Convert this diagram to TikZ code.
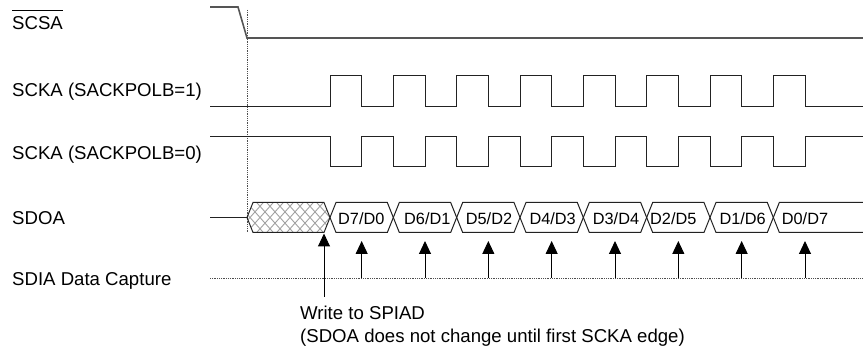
\documentclass[tikz,border=0pt]{standalone}
\usepackage{fontspec}
\setmainfont{Liberation Sans}
\usetikzlibrary{arrows.meta}
\definecolor{wave}{HTML}{222222}
\definecolor{csline}{HTML}{555555}
\definecolor{hatch}{HTML}{A0A0A0}
\tikzset{
  lbl/.style={anchor=base west, inner sep=0pt, font=\fontsize{18.6}{23}\selectfont},
  dlbl/.style={anchor=base west, inner sep=0pt, font=\fontsize{16.3}{20}\selectfont},
  wv/.style={draw=wave, line width=1pt},
  bus/.style={draw=wave, line width=1pt},
  dotln/.style={draw=wave!80, line width=0.8pt, densely dotted},
  caparrow/.style={draw=black, line width=1pt, -{Triangle[width=12pt,length=13pt]}},
}
\begin{document}
\begin{tikzpicture}[x=1pt,y=-1pt]
\useasboundingbox (0,0) rectangle (863,347);
% labels
\node[lbl] (lcs) at (12,29.5) {SCSA};
\draw[black, line width=0.9pt] ([yshift=5.5pt]lcs.north west) -- ([yshift=5.5pt]lcs.north east);
\node[lbl] (lck1) at (12,96.7) {SCKA (SACKPOLB=1)};
\node[lbl] (lck0) at (12,160) {SCKA (SACKPOLB=0)};
\node[lbl] (lsdo) at (12,224.5) {SDOA};
\node[lbl] (lsdi) at (12,286) {SDIA Data Capture};
\node[lbl] (lwr1) at (300,319.5) {Write to SPIAD};
\node[lbl] (lwr2) at (300,343) {(SDOA does not change until first SCKA edge)};
% dotted reference lines
\coordinate (vt) at (247,10);
\coordinate (vb) at (247,232);
\draw[dotln] (vt) -- (vb);
\coordinate (hl) at (210,278);
\coordinate (hr) at (863,278);
\draw[dotln] (hl) -- (hr);
% SCSA
\draw[draw=csline, line width=1.6pt] (210,7) -- (238,7) -- (247,38) -- (863,38);
% SCKA pol 1
\draw[wv] (210,107) \foreach \i in {0,...,7}{ -- ({330+63.333*\i},107) -- ({330+63.333*\i},76) -- ({361.667+63.333*\i},76) -- ({361.667+63.333*\i},107)} -- (863,107);
% SCKA pol 0
\draw[wv] (210,137) \foreach \i in {0,...,7}{ -- ({330+63.333*\i},137) -- ({330+63.333*\i},167) -- ({361.667+63.333*\i},167) -- ({361.667+63.333*\i},137)} -- (863,137);
% SDOA
\draw[wv] (210,217.5) -- (247,217.5);
\begin{scope}
\clip (247,217.5) -- (253,202.5) -- (324,202.5) -- (330,217.5) -- (324,232.5) -- (253,232.5) -- cycle;
\foreach \k in {-6,...,14}{
  \draw[hatch, line width=0.9pt] ({240+10*\k},195) -- ({280+10*\k},240);
  \draw[hatch, line width=0.9pt] ({240+10*\k},240) -- ({280+10*\k},195);
}
\end{scope}
\draw[bus] (247,217.5) -- (253,202.5) -- (324,202.5) -- (330,217.5) -- (324,232.5) -- (253,232.5) -- cycle;
\foreach \i in {0,...,6}{
  \draw[bus] ({330+63.333*\i},217.5) -- ({336+63.333*\i},202.5) -- ({387.333+63.333*\i},202.5) -- ({393.333+63.333*\i},217.5) -- ({387.333+63.333*\i},232.5) -- ({336+63.333*\i},232.5) -- cycle;
}
\draw[bus] (863,202.5) -- (779.333,202.5) -- (773.333,217.5) -- (779.333,232.5) -- (863,232.5);
% data labels
\node[dlbl] (d0) at (338,224.5) {D7/D0};
\node[dlbl] (d1) at (404,224.5) {D6/D1};
\node[dlbl] (d2) at (465.7,224.5) {D5/D2};
\node[dlbl] (d3) at (529.3,224.5) {D4/D3};
\node[dlbl] (d4) at (592.7,224.5) {D3/D4};
\node[dlbl] (d5) at (650,224.5) {D2/D5};
\node[dlbl] (d6) at (719.3,224.5) {D1/D6};
\node[dlbl] (d7) at (781.7,224.5) {D0/D7};
% capture arrows
\foreach \i in {0,...,7}{
  \coordinate (cb\i) at ({361.667+63.333*\i},278);
  \coordinate (ct\i) at ({361.667+63.333*\i},241);
  \draw[caparrow] (cb\i) -- (ct\i);
}
% write arrow
\coordinate (wb) at (324,297);
\coordinate (wt) at (324,233.5);
\draw[caparrow] (wb) -- (wt);
\end{tikzpicture}
\end{document}
